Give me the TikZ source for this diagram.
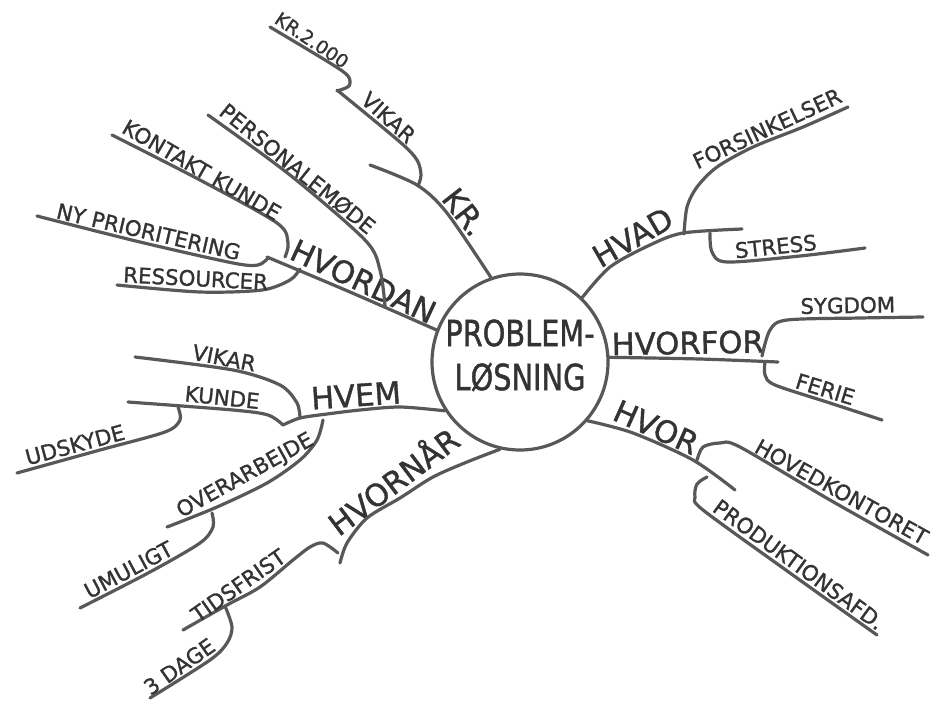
\documentclass[tikz,border=0pt]{standalone}
\usepackage{fontspec}
\setmainfont{DejaVu Sans}[FakeBold=1.2]
\definecolor{ink}{HTML}{333333}
\definecolor{pen}{HTML}{585858}
\tikzset{
  lbl/.style={inner xsep=0pt, inner ysep=2.5pt, anchor=south, text=ink, font=\fontsize{16}{16}\selectfont},
  mainlbl/.style={lbl, font=\fontsize{23}{23}\selectfont},
  branch/.style={draw=pen, line width=2.4pt, line cap=round, line join=round},
}
\begin{document}
\begin{tikzpicture}[x=0.75pt,y=-0.75pt]
\useasboundingbox[fill=white] (0,0) rectangle (938,708);

% centre
\node[draw=pen, line width=2.4pt, circle, minimum size=132pt, inner sep=0pt] (c) at (520,362) {};
\node[inner sep=0pt, text=ink, font=\fontsize{27}{27}\selectfont] (t1) at (520,333) {\scalebox{0.8}[1]{PROBLEM-}};
\node[inner sep=0pt, text=ink, font=\fontsize{27}{27}\selectfont] (t2) at (520,377) {\scalebox{0.8}[1]{LØSNING}};

% ---------- KR.
\coordinate (kr0) at (c.109);
\coordinate (kr1) at (447,213);
\coordinate (kr2) at (417,185);
\coordinate (kr3) at (370,165);
\draw[branch] plot[smooth] coordinates {(kr0) (kr1) (kr2) (kr3)};
\node[mainlbl, rotate=-52] (lkr) at (453,221) {KR.};
\coordinate (vk0) at (418,186);
\coordinate (vk1) at (421,175);
\coordinate (vk2) at (417,160);
\coordinate (vk3) at (400,142);
\coordinate (vk4) at (337,90);
\draw[branch] plot[smooth] coordinates {(vk0) (vk1) (vk2) (vk3) (vk4)};
\node[lbl, rotate=-42] (lvk) at (381,126) {VIKAR};
\coordinate (k20) at (337,91);
\coordinate (k21) at (349,86);
\coordinate (k22) at (348,76);
\coordinate (k23) at (330,63);
\coordinate (k24) at (270,27);
\draw[branch] plot[smooth] coordinates {(k20) (k21) (k22) (k23) (k24)};
\node[lbl, rotate=-34, font=\fontsize{14}{14}\selectfont] (lk2) at (306,49) {KR.2.000};

% ---------- HVORDAN
\coordinate (hd0) at (c.159);
\coordinate (hd1) at (350,292);
\coordinate (hd2) at (267,257);
\draw[branch] plot[smooth] coordinates {(hd0) (hd1) (hd2)};
\node[mainlbl, rotate=-25] (lhd) at (357,295) {HVORDAN};
\coordinate (ny0) at (268,258);
\coordinate (ny1) at (258,265);
\coordinate (ny2) at (233,263);
\coordinate (ny3) at (140,242);
\coordinate (ny4) at (37,216);
\draw[branch] plot[smooth] coordinates {(ny0) (ny1) (ny2) (ny3) (ny4)};
\node[lbl, rotate=-13] (lny) at (146,243) {NY PRIORITERING};
\coordinate (rs0) at (300,269);
\coordinate (rs1) at (290,280);
\coordinate (rs2) at (262,290);
\coordinate (rs3) at (200,292);
\coordinate (rs4) at (117,285);
\draw[branch] plot[smooth] coordinates {(rs0) (rs1) (rs2) (rs3) (rs4)};
\node[lbl, rotate=-3] (lrs) at (195,290) {RESSOURCER};
\coordinate (kk0) at (285,257);
\coordinate (kk1) at (288,243);
\coordinate (kk2) at (277,223);
\coordinate (kk3) at (200,180);
\coordinate (kk4) at (112,135);
\draw[branch] plot[smooth] coordinates {(kk0) (kk1) (kk2) (kk3) (kk4)};
\node[lbl, rotate=-30] (lkk) at (196,180) {KONTAKT KUNDE};
\coordinate (pm0) at (385,306);
\coordinate (pm1) at (380,270);
\coordinate (pm2) at (365,240);
\coordinate (pm3) at (290,175);
\coordinate (pm4) at (208,115);
\draw[branch] plot[smooth] coordinates {(pm0) (pm1) (pm2) (pm3) (pm4)};
\node[lbl, rotate=-39] (lpm) at (290,178) {PERSONALEMØDE};

% ---------- HVEM
\coordinate (hv0) at (c.213);
\coordinate (hv1) at (400,407);
\coordinate (hv2) at (360,410);
\coordinate (hv3) at (327,414);
\coordinate (hv4) at (300,418);
\coordinate (hv5) at (283,425);
\draw[branch] plot[smooth] coordinates {(hv0) (hv1) (hv2) (hv3) (hv4) (hv5)};
\node[mainlbl, rotate=4] (lhv) at (357,410) {HVEM};
\coordinate (vi0) at (300,418);
\coordinate (vi1) at (297,403);
\coordinate (vi2) at (280,385);
\coordinate (vi3) at (233,370);
\coordinate (vi4) at (135,357);
\draw[branch] plot[smooth] coordinates {(vi0) (vi1) (vi2) (vi3) (vi4)};
\node[lbl, rotate=-11] (lvi) at (222,369) {VIKAR};
\coordinate (ku0) at (283,425);
\coordinate (ku1) at (268,415);
\coordinate (ku2) at (233,410);
\coordinate (ku3) at (128,402);
\draw[branch] plot[smooth] coordinates {(ku0) (ku1) (ku2) (ku3)};
\node[lbl, rotate=-6] (lku) at (221,409) {KUNDE};
\coordinate (ud0) at (178,407);
\coordinate (ud1) at (180,420);
\coordinate (ud2) at (165,432);
\coordinate (ud3) at (100,450);
\coordinate (ud4) at (17,473);
\draw[branch] plot[smooth] coordinates {(ud0) (ud1) (ud2) (ud3) (ud4)};
\node[lbl, rotate=15] (lud) at (78,456) {UDSKYDE};
\coordinate (ov0) at (323,420);
\coordinate (ov1) at (317,440);
\coordinate (ov2) at (300,460);
\coordinate (ov3) at (267,483);
\coordinate (ov4) at (217,507);
\coordinate (ov5) at (167,527);
\draw[branch] plot[smooth] coordinates {(ov0) (ov1) (ov2) (ov3) (ov4) (ov5)};
\node[lbl, rotate=29] (lov) at (252,488) {OVERARBEJDE};
\coordinate (um0) at (212,513);
\coordinate (um1) at (213,527);
\coordinate (um2) at (200,543);
\coordinate (um3) at (150,572);
\coordinate (um4) at (80,608);
\draw[branch] plot[smooth] coordinates {(um0) (um1) (um2) (um3) (um4)};
\node[lbl, rotate=28] (lum) at (134,580) {UMULIGT};

% ---------- HVORNÅR
\coordinate (hn0) at (c.257);
\coordinate (hn1) at (467,462);
\coordinate (hn2) at (433,477);
\coordinate (hn3) at (400,498);
\coordinate (hn4) at (367,518);
\coordinate (hn5) at (347,543);
\coordinate (hn6) at (340,563);
\draw[branch] plot[smooth] coordinates {(hn0) (hn1) (hn2) (hn3) (hn4) (hn5) (hn6)};
\node[mainlbl, rotate=37] (lhn) at (403,494) {HVORNÅR};
\coordinate (ti0) at (338,553);
\coordinate (ti1) at (323,543);
\coordinate (ti2) at (310,547);
\coordinate (ti3) at (293,560);
\coordinate (ti4) at (260,587);
\coordinate (ti5) at (227,605);
\coordinate (ti6) at (183,630);
\draw[branch] plot[smooth] coordinates {(ti0) (ti1) (ti2) (ti3) (ti4) (ti5) (ti6)};
\node[lbl, rotate=35] (lti) at (245,595) {TIDSFRIST};
\coordinate (dg0) at (225,606);
\coordinate (dg1) at (232,627);
\coordinate (dg2) at (227,643);
\coordinate (dg3) at (210,660);
\coordinate (dg4) at (150,698);
\draw[branch] plot[smooth] coordinates {(dg0) (dg1) (dg2) (dg3) (dg4)};
\node[lbl, rotate=35] (ldg) at (186,676) {3 DAGE};

% ---------- HVAD
\coordinate (ha0) at (c.46);
\coordinate (ha1) at (610,267);
\coordinate (ha2) at (650,245);
\coordinate (ha3) at (683,233);
\coordinate (ha4) at (742,229);
\draw[branch] plot[smooth] coordinates {(ha0) (ha1) (ha2) (ha3) (ha4)};
\node[mainlbl, rotate=30] (lha) at (640,250) {HVAD};
\coordinate (fo0) at (684,234);
\coordinate (fo1) at (687,207);
\coordinate (fo2) at (697,187);
\coordinate (fo3) at (717,167);
\coordinate (fo4) at (753,147);
\coordinate (fo5) at (803,127);
\coordinate (fo6) at (848,107);
\draw[branch] plot[smooth] coordinates {(fo0) (fo1) (fo2) (fo3) (fo4) (fo5) (fo6)};
\node[lbl, rotate=25] (lfo) at (772,139) {FORSINKELSER};
\coordinate (st0) at (710,233);
\coordinate (st1) at (712,252);
\coordinate (st2) at (727,262);
\coordinate (st3) at (800,256);
\coordinate (st4) at (865,248);
\draw[branch] plot[smooth] coordinates {(st0) (st1) (st2) (st3) (st4)};
\node[lbl, rotate=6] (lst) at (777,258) {STRESS};

% ---------- HVORFOR
\coordinate (hf0) at (c.3);
\coordinate (hf1) at (700,359);
\coordinate (hf2) at (778,362);
\draw[branch] plot[smooth] coordinates {(hf0) (hf1) (hf2)};
\node[mainlbl, rotate=1] (lhf) at (688,358) {HVORFOR};
\coordinate (sy0) at (762,356);
\coordinate (sy1) at (770,330);
\coordinate (sy2) at (787,320);
\coordinate (sy3) at (860,318);
\coordinate (sy4) at (923,317);
\draw[branch] plot[smooth] coordinates {(sy0) (sy1) (sy2) (sy3) (sy4)};
\node[lbl, rotate=1] (lsy) at (848,317) {SYGDOM};
\coordinate (fe0) at (765,362);
\coordinate (fe1) at (765,375);
\coordinate (fe2) at (775,385);
\coordinate (fe3) at (830,403);
\coordinate (fe4) at (882,420);
\draw[branch] plot[smooth] coordinates {(fe0) (fe1) (fe2) (fe3) (fe4)};
\node[lbl, rotate=-17] (lfe) at (822,400) {FERIE};

% ---------- HVOR
\coordinate (hr0) at (c.319);
\coordinate (hr1) at (633,433);
\coordinate (hr2) at (693,460);
\coordinate (hr3) at (735,490);
\draw[branch] plot[smooth] coordinates {(hr0) (hr1) (hr2) (hr3)};
\node[mainlbl, rotate=-24] (lhr) at (650,441) {HVOR};
\coordinate (ho0) at (697,460);
\coordinate (ho1) at (703,447);
\coordinate (ho2) at (720,443);
\coordinate (ho3) at (740,447);
\coordinate (ho4) at (830,500);
\coordinate (ho5) at (928,555);
\draw[branch] plot[smooth] coordinates {(ho0) (ho1) (ho2) (ho3) (ho4) (ho5)};
\node[lbl, rotate=-29] (lho) at (836,502) {HOVEDKONTORET};
\coordinate (pr0) at (707,477);
\coordinate (pr1) at (697,484);
\coordinate (pr2) at (695,497);
\coordinate (pr3) at (703,510);
\coordinate (pr4) at (790,573);
\coordinate (pr5) at (877,635);
\draw[branch] plot[smooth] coordinates {(pr0) (pr1) (pr2) (pr3) (pr4) (pr5)};
\node[lbl, rotate=-36] (lpr) at (792,574) {PRODUKTIONSAFD.};
\end{tikzpicture}
\end{document}
